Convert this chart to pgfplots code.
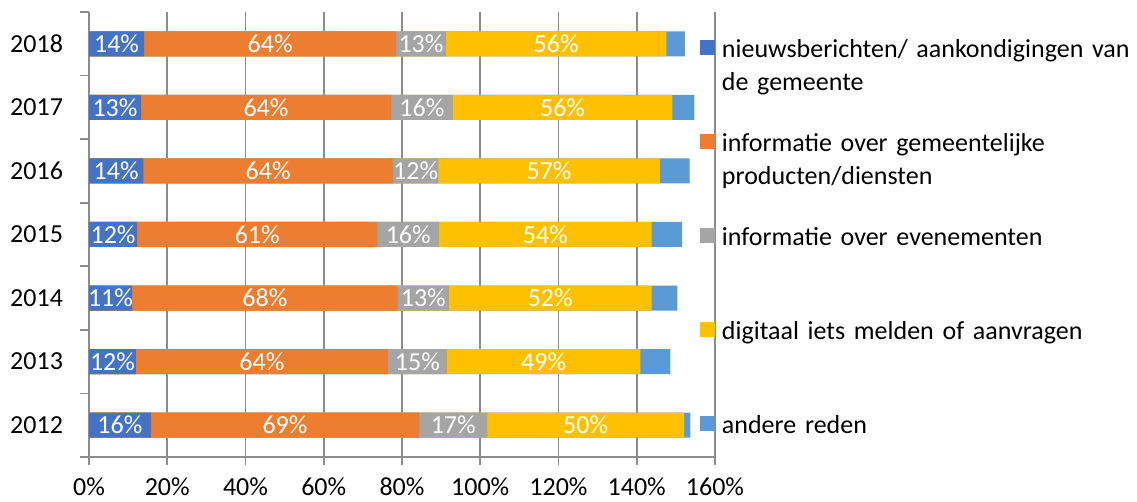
\documentclass[border=0pt]{standalone}
\usepackage{pgfplots}
\usepackage{pgfplotstable}
\pgfplotsset{compat=1.18}
\usepackage{fontspec}
\setmainfont{Carlito}
\definecolor{cBlue}{HTML}{4472C4}
\definecolor{cOrange}{HTML}{ED7D31}
\definecolor{cGray}{HTML}{A5A5A5}
\definecolor{cYellow}{HTML}{FFC000}
\definecolor{cLight}{HTML}{5B9BD5}
\definecolor{gridc}{HTML}{8C8C8C}
\pgfplotstableread{
y a b c d e
0 15.8 68.6 17.4 50.3 1.6
1 12.0 64.4 15.1 49.4 7.7
2 11.0 67.9 13.1 51.8 6.6
3 12.3 61.4 15.8 54.3 7.8
4 13.9 63.8 11.6 56.6 7.6
5 13.3 63.9 15.8 56.1 5.6
6 14.1 64.4 12.7 56.4 4.7
}\data
\begin{document}
\begin{tikzpicture}
\useasboundingbox (-44.5pt,-22.5pt) rectangle (524pt,228.5pt);
\begin{axis}[
  at={(0,0)}, anchor=south west,
  bar width=12.5pt,
  width=313pt, height=222.5pt, scale only axis,
  xmin=0, xmax=160, ymin=-0.5, ymax=6.5,
  xtick={0,20,...,160},
  xticklabel={\pgfmathprintnumber{\tick}\%},
  ytick={0,...,6}, yticklabels={2012,2013,2014,2015,2016,2017,2018},
  minor ytick={-0.5,0.5,...,6.5},
  axis x line*=bottom, axis y line*=left,
  axis line style={gridc, line width=0.85pt, -},
  xmajorgrids, major x grid style={gridc, line width=0.85pt},
  tick align=outside,
  major tick length=4pt, minor tick length=4.5pt,
  x tick style={gridc, line width=0.85pt},
  y tick style={draw=none},
  minor y tick style={draw=gridc, line width=0.85pt},
  tick label style={font=\fontsize{13}{16}\selectfont, text=black},
  /pgf/number format/assume math mode=true,
  xticklabel style={yshift=-3pt},
  yticklabel style={xshift=-5.5pt},
  reverse legend,
  legend cell align=left,
  legend style={at={(rel axis cs:0.976,0.9505)}, anchor=north west, draw=none, fill=none,
    inner sep=0pt, outer sep=0pt, row sep=34pt, column sep=3.5pt,
    font=\fontsize{13}{16.5}\selectfont,
    nodes={inner sep=0pt, text width=207pt, align=left}},
  legend image code/.code={\fill[#1, draw=none] (0pt,-3.75pt) rectangle (7.5pt,3.75pt);},
  lbl/.style={draw=none, mark=none, forget plot, nodes near coords={\pgfmathprintnumber[fixed,precision=0]{\pgfplotspointmeta}\%},
    nodes near coords align=center,
    every node near coord/.style={anchor=center, inner sep=0pt, text=white, font=\fontsize{13}{16}\selectfont}},
]
% bars drawn from 0 to the running total, longest first
\addplot[xbar, fill=cLight, draw=none] table[x expr=\thisrow{a}+\thisrow{b}+\thisrow{c}+\thisrow{d}+\thisrow{e}, y=y] {\data};
\addlegendentry{\strut andere reden\\\strut}
\addplot[xbar, fill=cYellow, draw=none] table[x expr=\thisrow{a}+\thisrow{b}+\thisrow{c}+\thisrow{d}, y=y] {\data};
\addlegendentry{\strut digitaal iets melden of aanvragen\\\strut}
\addplot[xbar, fill=cGray, draw=none] table[x expr=\thisrow{a}+\thisrow{b}+\thisrow{c}, y=y] {\data};
\addlegendentry{\strut informatie over evenementen\\\strut}
\addplot[xbar, fill=cOrange, draw=none] table[x expr=\thisrow{a}+\thisrow{b}, y=y] {\data};
\addlegendentry{\strut informatie over gemeentelijke\\producten/diensten\strut}
\addplot[xbar, fill=cBlue, draw=none] table[x=a, y=y] {\data};
\addlegendentry{\strut nieuwsberichten/ aankondigingen van\\de gemeente\strut}
% segment labels at segment centres
\addplot[lbl, point meta=\thisrow{a}] table[x expr=\thisrow{a}/2, y=y] {\data};
\addplot[lbl, point meta=\thisrow{b}] table[x expr=\thisrow{a}+\thisrow{b}/2, y=y] {\data};
\addplot[lbl, point meta=\thisrow{c}] table[x expr=\thisrow{a}+\thisrow{b}+\thisrow{c}/2, y=y] {\data};
\addplot[lbl, point meta=\thisrow{d}] table[x expr=\thisrow{a}+\thisrow{b}+\thisrow{c}+\thisrow{d}/2, y=y] {\data};
\end{axis}
\end{tikzpicture}
\end{document}
